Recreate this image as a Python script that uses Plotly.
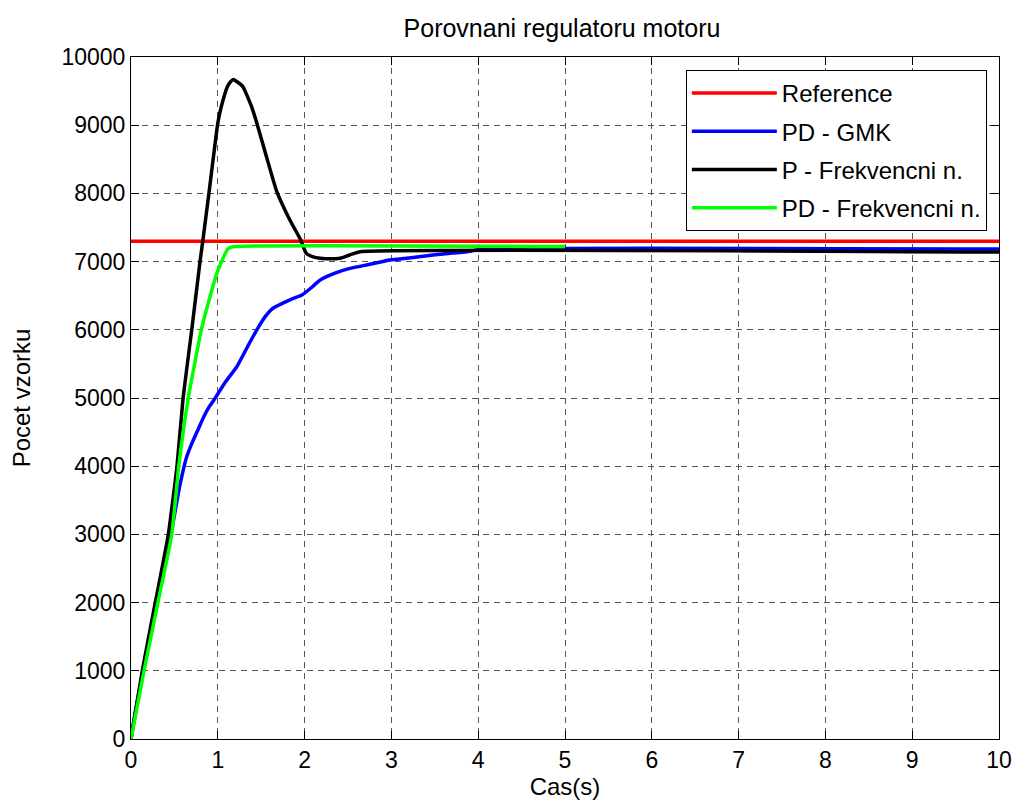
import plotly.graph_objects as go

# Reference
ref_t = [0, 10]
ref_y = [7300, 7300]

# PD - GMK
gmk_t = [0, 0.05, 0.14, 0.30, 0.46, 0.56, 0.64, 0.70, 0.77, 0.84, 0.90, 0.95, 1.08, 1.22, 1.35, 1.45, 1.55, 1.64, 1.75, 1.87, 1.97, 2.08, 2.18, 2.35, 2.52, 2.75, 2.98, 3.25, 3.48, 3.71, 3.85, 4.04, 10]
gmk_y = [0, 400, 1000, 2000, 3000, 3700, 4130, 4330, 4530, 4730, 4870, 4960, 5220, 5460, 5770, 6000, 6200, 6320, 6390, 6460, 6510, 6620, 6730, 6830, 6900, 6960, 7023, 7060, 7097, 7126, 7140, 7180, 7185]

# P - Frekvencni n.
p_t = [0, 0.13, 0.28, 0.43, 0.53, 0.60, 0.70, 0.795, 0.83, 0.90, 0.95, 1.00, 1.04, 1.11, 1.15, 1.18, 1.23, 1.29, 1.39, 1.45, 1.56, 1.68, 1.83, 1.95, 2.02, 2.10, 2.18, 2.30, 2.41, 2.52, 2.64, 10]
p_y = [0, 1000, 2000, 3000, 4000, 5000, 6000, 7000, 7330, 8025, 8540, 9030, 9270, 9565, 9640, 9670, 9630, 9565, 9270, 9030, 8540, 8025, 7610, 7330, 7120, 7070, 7050, 7040, 7050, 7097, 7145, 7140]

# PD - Frekvencni n.
pdf_t = [0, 0.15, 0.31, 0.47, 0.55, 0.66, 0.81, 0.91, 0.99, 1.06, 1.12, 1.20, 5.0]
pdf_y = [0, 1000, 2000, 3000, 4000, 5000, 6000, 6485, 6830, 7050, 7190, 7220, 7220]

FONT = "Liberation Sans, Arial, sans-serif"

fig = go.Figure()
series = [
    ("Reference", ref_t, ref_y, "#ff0000"),
    ("PD - GMK", gmk_t, gmk_y, "#0000ff"),
    ("P - Frekvencni n.", p_t, p_y, "#000000"),
    ("PD - Frekvencni n.", pdf_t, pdf_y, "#00ff00"),
]
for name, t, y, c in series:
    fig.add_trace(go.Scatter(x=t, y=y, mode="lines", name=name, legendgroup=name,
                             line=dict(color=c, width=3.5, shape="spline", smoothing=0.4)))

axis_common = dict(
    showline=True, linecolor="black", linewidth=1, mirror="ticks",
    ticks="inside", ticklen=8, tickcolor="black",
    showgrid=True, gridcolor="#555555", gridwidth=1, griddash="6px,5px",
    zeroline=False, tickfont=dict(family=FONT, size=23, color="black"),
    tickformat="d", automargin=False,
)

W, H = 1016, 807
fig.update_layout(
    width=W, height=H,
    margin=dict(l=131, r=17, t=57, b=68),
    paper_bgcolor="white", plot_bgcolor="white",
    title=dict(text="Porovnani regulatoru motoru", x=562 / W, xanchor="center",
               y=1 - 28 / H, yanchor="middle", yref="container",
               font=dict(family=FONT, size=25, color="black")),
    xaxis=dict(range=[0, 10], dtick=1, title=dict(text="Cas(s)", standoff=6,
               font=dict(family=FONT, size=24, color="black")), **axis_common),
    yaxis=dict(range=[0, 10000], dtick=1000, title=dict(text="Pocet vzorku", standoff=24,
               font=dict(family=FONT, size=24, color="black")), **axis_common),
    legend=dict(x=0.986, y=0.981, xanchor="right", yanchor="top",
                bgcolor="white", bordercolor="black", borderwidth=1,
                font=dict(family=FONT, size=24, color="black"),
                tracegroupgap=4, itemwidth=85),
    showlegend=True,
)

fig.write_html("out.html", config={"displayModeBar": False},
               post_script="document.body.style.margin='0';document.body.style.overflow='hidden';")
